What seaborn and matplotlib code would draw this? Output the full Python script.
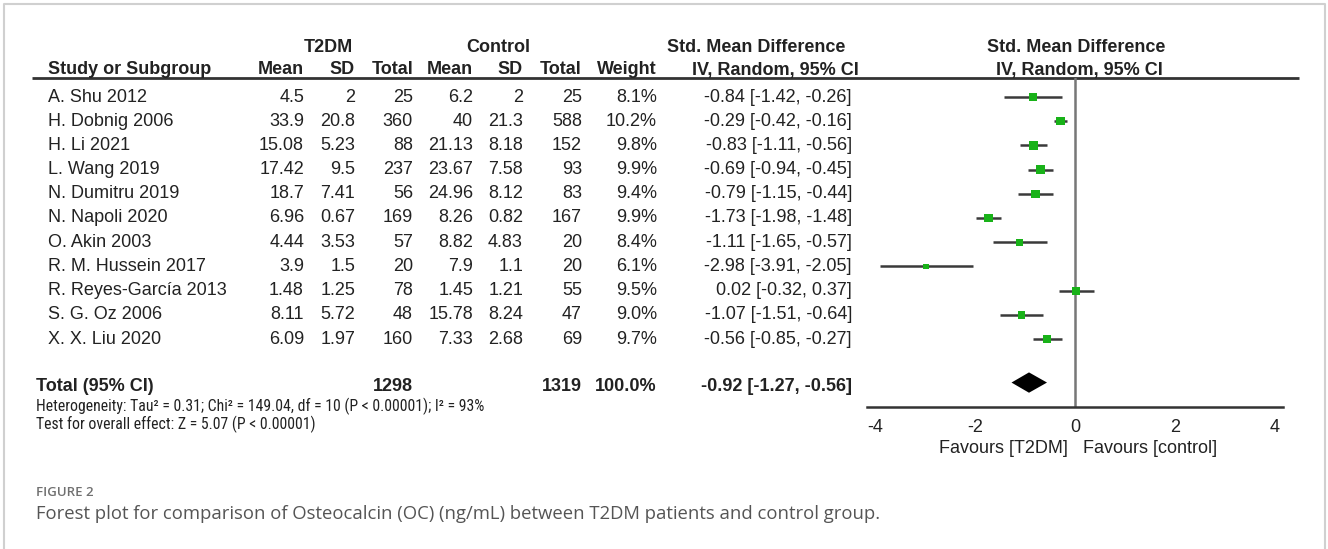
import matplotlib
matplotlib.use("Agg")
import matplotlib.pyplot as plt
import numpy as np
import pandas as pd
import seaborn as sns
from matplotlib import font_manager


studies = [
    "A. Shu 2012", "H. Dobnig 2006", "H. Li 2021", "L. Wang 2019",
    "N. Dumitru 2019", "N. Napoli 2020", "O. Akin 2003", "R. M. Hussein 2017",
    "R. Reyes-García 2013", "S. G. Oz 2006", "X. X. Liu 2020",
]
t2dm_mean = ["4.5", "33.9", "15.08", "17.42", "18.7", "6.96", "4.44", "3.9", "1.48", "8.11", "6.09"]
t2dm_sd = ["2", "20.8", "5.23", "9.5", "7.41", "0.67", "3.53", "1.5", "1.25", "5.72", "1.97"]
t2dm_total = [25, 360, 88, 237, 56, 169, 57, 20, 78, 48, 160]
ctrl_mean = ["6.2", "40", "21.13", "23.67", "24.96", "8.26", "8.82", "7.9", "1.45", "15.78", "7.33"]
ctrl_sd = ["2", "21.3", "8.18", "7.58", "8.12", "0.82", "4.83", "1.1", "1.21", "8.24", "2.68"]
ctrl_total = [25, 588, 152, 93, 83, 167, 20, 20, 55, 47, 69]
weight = [8.1, 10.2, 9.8, 9.9, 9.4, 9.9, 8.4, 6.1, 9.5, 9.0, 9.7]
smd = [-0.84, -0.29, -0.83, -0.69, -0.79, -1.73, -1.11, -2.98, 0.02, -1.07, -0.56]
ci_low = [-1.42, -0.42, -1.11, -0.94, -1.15, -1.98, -1.65, -3.91, -0.32, -1.51, -0.85]
ci_high = [-0.26, -0.16, -0.56, -0.45, -0.44, -1.48, -0.57, -2.05, 0.37, -0.64, -0.27]

total_t2dm = 1298
total_ctrl = 1319
total_smd = -0.92
total_low = -1.27
total_high = -0.56

xticks = [-4, -2, 0, 2, 4]
heterogeneity = "Heterogeneity: Tau² = 0.31; Chi² = 149.04, df = 10 (P < 0.00001); I² = 93%"
overall = "Test for overall effect: Z = 5.07 (P < 0.00001)"
caption_label = "FIGURE 2"
caption = "Forest plot for comparison of Osteocalcin (OC) (ng/mL) between T2DM patients and control group."

W, H = 1328, 549
ROW0 = 97
ROW_H = 24.2
TOTAL_ROW = 11.8
FS = 13
DARK = "#222222"
GREEN = "#19b219"


def row_y(i):
    return ROW0 + ROW_H * i


def footnote_font():
    # the footnote lines are set in a condensed face; use one if it is around
    for family in ["Liberation Sans Narrow", "Roboto Condensed", "Arial Narrow"]:
        try:
            font_manager.findfont(font_manager.FontProperties(family=family),
                                  fallback_to_default=False)
            return family, 11.3
        except ValueError:
            continue
    return "Liberation Sans", 10.6


def draw_table(tab):
    kw = dict(fontsize=FS, color=DARK, va="center")
    bold = dict(kw, fontweight="bold")

    # group headers
    tab.text(328, 47, "T2DM", ha="center", **bold)
    tab.text(498, 47, "Control", ha="center", **bold)
    tab.text(756, 47, "Std. Mean Difference", ha="center", **bold)
    tab.text(1076, 47, "Std. Mean Difference", ha="center", **bold)

    tab.text(48, 70, "Study or Subgroup", ha="left", **bold)
    for x, label in [(304, "Mean"), (355, "SD"), (413, "Total"),
                     (473, "Mean"), (523, "SD"), (582, "Total"), (657, "Weight")]:
        tab.text(x, 70, label, ha="right", **bold)
    tab.text(775, 70, "IV, Random, 95% CI", ha="center", **bold)
    tab.text(1079, 70, "IV, Random, 95% CI", ha="center", **bold)
    tab.plot([32, 1299], [78, 78], color="#333333", lw=2, solid_capstyle="butt")

    for i, name in enumerate(studies):
        y = row_y(i)
        tab.text(48, y, name, ha="left", **kw)
        tab.text(304, y, t2dm_mean[i], ha="right", **kw)
        tab.text(355, y, t2dm_sd[i], ha="right", **kw)
        tab.text(413, y, str(t2dm_total[i]), ha="right", **kw)
        tab.text(473, y, ctrl_mean[i], ha="right", **kw)
        tab.text(523, y, ctrl_sd[i], ha="right", **kw)
        tab.text(582, y, str(ctrl_total[i]), ha="right", **kw)
        tab.text(657, y, f"{weight[i]:.1f}%", ha="right", **kw)
        tab.text(852, y, f"{smd[i]:.2f} [{ci_low[i]:.2f}, {ci_high[i]:.2f}]", ha="right", **kw)

    y = row_y(TOTAL_ROW) + 4
    tab.text(36, y, "Total (95% CI)", ha="left", **bold)
    tab.text(413, y, str(total_t2dm), ha="right", **bold)
    tab.text(582, y, str(total_ctrl), ha="right", **bold)
    tab.text(657, y, "100.0%", ha="right", **bold)
    tab.text(852, y, f"{total_smd:.2f} [{total_low:.2f}, {total_high:.2f}]", ha="right", **bold)

    family, size = footnote_font()
    tab.text(36, 406, heterogeneity, ha="left", family=[family, "DejaVu Sans"],
             **dict(kw, fontsize=size))
    tab.text(36, 424, overall, ha="left", family=[family, "DejaVu Sans"],
             **dict(kw, fontsize=size))

    tab.text(36, 493, caption_label, ha="left", va="center", fontsize=9.5,
             color="#707070", fontweight="semibold", family="Open Sans")
    tab.text(36, 514, caption, ha="left", va="center", fontsize=13.3,
             color="#555555", family="Open Sans")

    # light frame around the figure
    tab.plot([4, 4, 1325, 1325], [H, 4, 4, H], color="#d0d0d0", lw=1.5)


def draw_forest(ax):
    df = pd.DataFrame({
        "study": studies,
        "smd": smd,
        "low": ci_low,
        "high": ci_high,
        "weight": weight,
        "row": np.arange(len(studies)),
    })
    ax.hlines(df["row"], df["low"], df["high"], color="#3a3a3a", lw=1.8, zorder=2)
    sns.scatterplot(
        data=df, x="smd", y="row", size="weight", sizes=(16, 38),
        marker="s", color=GREEN, edgecolor="none", legend=False, ax=ax, zorder=3,
    )
    ax.fill(
        [total_low, total_smd, total_high, total_smd],
        [TOTAL_ROW, TOTAL_ROW - 0.42, TOTAL_ROW, TOTAL_ROW + 0.42],
        color="black", lw=0, zorder=3,
    )
    ax.axvline(0, color="#777777", lw=1.8, zorder=1)

    ax.set_xlim(-4.16, 4.16)
    ax.set_ylim((407 - ROW0) / ROW_H, (78 - ROW0) / ROW_H)
    ax.set_xticks(xticks)
    ax.set_xticklabels([str(t) for t in xticks], fontsize=FS, color=DARK)
    ax.tick_params(axis="x", direction="inout", length=12, width=1.5, color="#333333", pad=3)
    ax.set_yticks([])
    ax.set_xlabel("")
    ax.set_ylabel("")
    for side in ["top", "left", "right"]:
        ax.spines[side].set_visible(False)
    ax.spines["bottom"].set_color("#333333")
    ax.spines["bottom"].set_linewidth(1.8)
    ax.patch.set_alpha(0)

    ax.text(-0.14, -0.125, "Favours [T2DM]", transform=ax.get_xaxis_transform(),
            ha="right", va="center", fontsize=FS, color=DARK)
    ax.text(0.16, -0.125, "Favours [control]", transform=ax.get_xaxis_transform(),
            ha="left", va="center", fontsize=FS, color=DARK)


def main():
    sns.set_theme(style="white")
    plt.rcParams["font.family"] = ["Liberation Sans", "DejaVu Sans"]

    fig = plt.figure(figsize=(W / 100, H / 100), dpi=100)
    tab = fig.add_axes([0, 0, 1, 1])
    tab.set_xlim(0, W)
    tab.set_ylim(H, 0)
    tab.axis("off")
    draw_table(tab)

    ax = fig.add_axes([867 / W, 1 - 407 / H, (1283 - 867) / W, (407 - 78) / H])
    draw_forest(ax)

    fig.savefig("out.png", dpi=100)


if __name__ == "__main__":
    main()
